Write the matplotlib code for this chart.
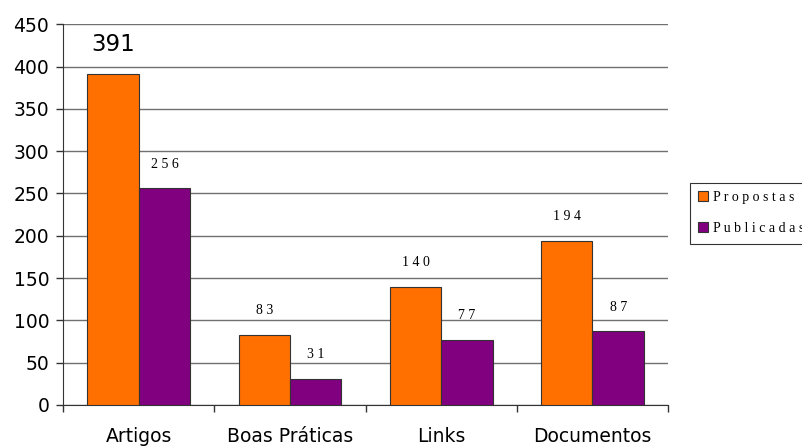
import matplotlib.pyplot as plt
import numpy as np

categorias = ["Artigos", "Boas Práticas", "Links", "Documentos"]
series = ["Propostas", "Publicadas"]
propostas = [391, 83, 140, 194]
publicadas = [256, 31, 77, 87]
cores = ["#FF7000", "#800080"]

fig = plt.figure(figsize=(8.03, 4.48), dpi=100)
ax = fig.add_axes([0.0785, 0.096, 0.7535, 0.85])

x = np.arange(len(categorias))
w = 0.34
b1 = ax.bar(x - w / 2, propostas, w, color=cores[0], edgecolor="#333333", linewidth=0.8, label=" ".join(series[0]), zorder=3)
b2 = ax.bar(x + w / 2, publicadas, w, color=cores[1], edgecolor="#333333", linewidth=0.8, label=" ".join(series[1]), zorder=3)

# rotulos dos valores
for i, v in enumerate(propostas):
    if i == 0:
        ax.text(x[i] - w / 2, v + 21, str(v), ha="center", va="bottom", fontsize=16.5, family="DejaVu Sans")
    else:
        ax.text(x[i] - w / 2, v + 21, " ".join(str(v)), ha="center", va="bottom", fontsize=10, family="Liberation Serif")
for i, v in enumerate(publicadas):
    ax.text(x[i] + w / 2, v + 21, " ".join(str(v)), ha="center", va="bottom", fontsize=10, family="Liberation Serif")

ax.set_xlim(-0.5, len(categorias) - 0.5)
ax.set_ylim(0, 450)
ax.set_yticks(range(0, 451, 50))
ax.yaxis.grid(True, color="#707070", linewidth=1, zorder=0)
ax.tick_params(axis="y", labelsize=13.5, length=5, width=1, color="#333333", pad=5)

ax.set_xticks(x)
ax.set_xticklabels(categorias, fontsize=13.5)
ax.set_xticks(np.arange(len(categorias) + 1) - 0.5, minor=True)
ax.tick_params(axis="x", which="major", length=0, pad=16)
ax.tick_params(axis="x", which="minor", length=5, width=1, color="#333333")

ax.spines["top"].set_visible(False)
ax.spines["right"].set_visible(False)
ax.spines["left"].set_color("#333333")
ax.spines["bottom"].set_color("#333333")

leg = fig.legend(loc="upper left", bbox_to_anchor=(0.859, 0.592), frameon=True, fancybox=False,
                 prop={"family": "Liberation Serif", "size": 10}, handlelength=0.7, handleheight=0.7,
                 handletextpad=0.4, labelspacing=1.3, borderpad=0.6, borderaxespad=0)
leg.get_frame().set_edgecolor("black")
leg.get_frame().set_linewidth(0.8)

plt.savefig("out.png", dpi=100)
